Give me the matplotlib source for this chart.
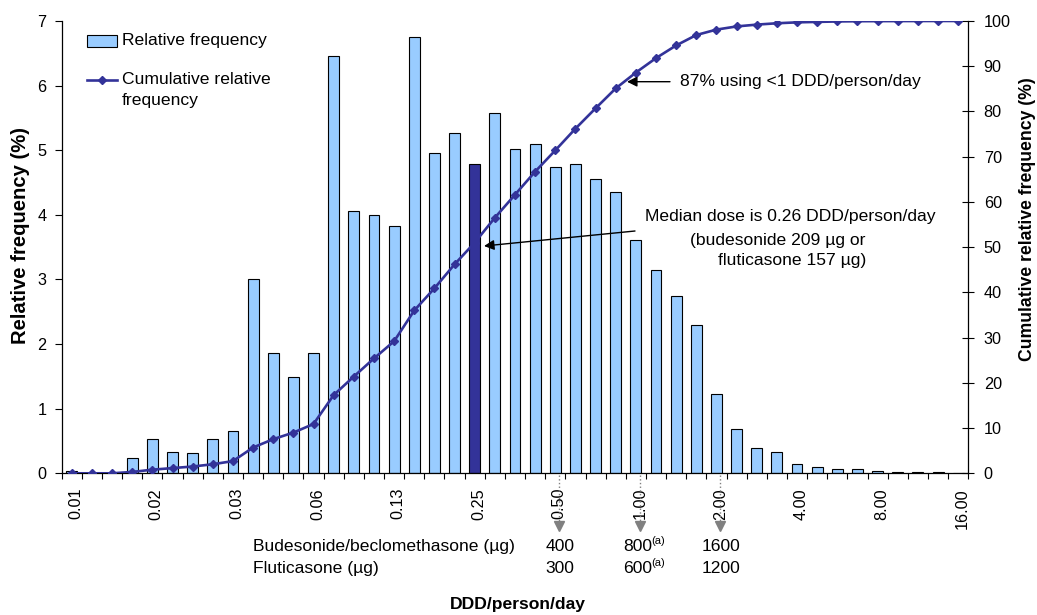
import matplotlib
matplotlib.use('Agg')
import matplotlib.pyplot as plt
from matplotlib import transforms
from matplotlib.patches import Rectangle
from matplotlib.lines import Line2D
import numpy as np

# ---------------- data ----------------
tick_labels = ['0.01', '0.02', '0.03', '0.06', '0.13', '0.25', '0.50',
               '1.00', '2.00', '4.00', '8.00', '16.00']
rel_freq = [0.04, 0.0, 0.0, 0.23, 0.53, 0.33, 0.32, 0.53, 0.65, 3.01,
            1.86, 1.49, 1.86, 6.46, 4.06, 4.00, 3.82, 6.75, 4.96, 5.26,
            4.79, 5.58, 5.02, 5.09, 4.74, 4.78, 4.56, 4.36, 3.61, 3.15,
            2.75, 2.29, 1.23, 0.68, 0.39, 0.33, 0.15, 0.09, 0.06, 0.06,
            0.03, 0.02, 0.02, 0.02, 0.0]
cum_freq = [0.0, 0.0, 0.0, 0.3, 0.8, 1.15, 1.5, 2.0, 2.7, 5.7,
            7.55, 9.0, 10.9, 17.3, 21.4, 25.4, 29.2, 36.0, 40.9, 46.2,
            51.0, 56.5, 61.6, 66.7, 71.4, 76.2, 80.7, 85.1, 88.6, 91.8,
            94.6, 96.9, 98.1, 98.8, 99.2, 99.5, 99.7, 99.8, 99.9, 99.95,
            99.97, 99.98, 99.99, 100.0, 100.0]
median_index = 20
marked_ticks = [24, 28, 32]           # 0.50, 1.00, 2.00
bud_values = ['400', '800', '1600']
flu_values = ['300', '600', '1200']
superscripts = ['', '(a)', '']

# ---------------- style ----------------
plt.rcParams['font.family'] = ['Liberation Sans', 'DejaVu Sans']
W, H, DPI = 1037, 615, 100
LIGHT = '#99CCFF'
DARK = '#333399'
TXT = 12.6
TICK = 11.7

fig = plt.figure(figsize=(W / DPI, H / DPI), dpi=DPI)
pix = transforms.Affine2D().scale(1, -1).translate(0, H)   # top-left pixel coords


def F(px, py):
    return (px / W, 1 - py / H)


L, R, T, B = 61.7, 968.3, 21.0, 473.3
ax = fig.add_axes([L / W, 1 - B / H, (R - L) / W, (B - T) / H])
n = len(rel_freq)
x = np.arange(n)
colors = [DARK if i == median_index else LIGHT for i in x]
ax.bar(x, rel_freq, width=0.54, color=colors, edgecolor='black',
       linewidth=0.8, zorder=2)
ax.set_xlim(-0.5, n - 0.5)
ax.set_ylim(0, 7)
ax.set_yticks(range(8))

ax2 = ax.twinx()
ax2.plot(x, cum_freq, color=DARK, lw=1.9, marker='D', ms=4.5, zorder=3)
ax2.set_ylim(0, 100)
ax2.set_yticks(range(0, 101, 10))

for a in (ax, ax2):
    a.spines['top'].set_visible(False)
    for s in a.spines.values():
        s.set_linewidth(0.9)
ax.spines['right'].set_visible(False)
ax2.spines['left'].set_visible(False)
ax2.spines['bottom'].set_visible(False)

# x ticks
ax.set_xticks(range(0, n, 4))
ax.set_xticklabels(tick_labels, rotation=90)
ax.set_xticks(np.arange(-0.5, n, 1), minor=True)
ax.tick_params(axis='x', which='major', length=0, pad=10.5, labelsize=TICK)
ax.tick_params(axis='x', which='minor', length=4.5, width=0.8, direction='out')
off = transforms.ScaledTranslation(4 / DPI, 0, fig.dpi_scale_trans)
for lab in ax.get_xticklabels():
    lab.set_transform(lab.get_transform() + off)

ax.tick_params(axis='y', direction='out', length=5, width=0.8, pad=5.8,
               labelsize=TICK)
ax2.tick_params(axis='y', direction='inout', length=8.6, width=0.8, pad=6.8,
                labelsize=TICK)

# axis labels
fig.text(*F(20.5, 236), 'Relative frequency (%)', rotation=90, fontsize=14.6,
         fontweight='bold', ha='center', va='center')
fig.text(*F(1027.5, 219), 'Cumulative relative frequency (%)', rotation=90,
         fontsize=12.7, fontweight='bold', ha='center', va='center')
fig.text(*F(518.3, 604), 'DDD/person/day', fontsize=TXT, fontweight='bold',
         ha='center', va='center')

# legend (manual)
fig.patches.append(Rectangle(F(87.3, 46.7), 29.4 / W, 11.7 / H,
                             transform=fig.transFigure, facecolor=LIGHT,
                             edgecolor='black', linewidth=0.8))
fig.text(*F(121.7, 41), 'Relative frequency', fontsize=TXT, va='center')
fig.lines.append(Line2D([87 / W, 117 / W], [1 - 80 / H, 1 - 80 / H],
                        transform=fig.transFigure, color=DARK, lw=1.9))
fig.lines.append(Line2D([102 / W], [1 - 80 / H], transform=fig.transFigure,
                        color=DARK, marker='D', ms=4.5))
fig.text(*F(121.7, 80), 'Cumulative relative', fontsize=TXT, va='center')
fig.text(*F(121.7, 100), 'frequency', fontsize=TXT, va='center')

# annotations
arrow = dict(arrowstyle='-|>,head_length=0.6,head_width=0.3', color='black',
             lw=1.0, shrinkA=0, shrinkB=0, mutation_scale=10)
fig.add_artist(matplotlib.text.Annotation('', xy=F(627, 81.7), xytext=F(670, 81.7),
                                          xycoords='figure fraction',
                                          textcoords='figure fraction',
                                          arrowprops=arrow))
fig.text(*F(680, 81.7), '87% using <1 DDD/person/day', fontsize=TXT, va='center')
fig.add_artist(matplotlib.text.Annotation('', xy=F(484, 246), xytext=F(635, 231),
                                          xycoords='figure fraction',
                                          textcoords='figure fraction',
                                          arrowprops=arrow))
fig.text(*F(645, 217), 'Median dose is 0.26 DDD/person/day', fontsize=TXT,
         va='center')
fig.text(*F(690, 240), '(budesonide 209 \u00b5g or', fontsize=TXT, va='center')
fig.text(*F(718.3, 260), 'fluticasone 157 \u00b5g)', fontsize=TXT, va='center')

# dotted markers under selected ticks
btr = transforms.blended_transform_factory(ax.transData + off, pix)
for k in marked_ticks:
    fig.lines.append(Line2D([k, k], [475, 521], transform=btr, color='#808080',
                            lw=1.0, ls=':'))
    fig.lines.append(Line2D([k], [525.5], transform=btr, color='#808080',
                            marker='v', ms=6.5, mec='#808080'))

# dose table
fig.text(*F(253.3, 546.7), 'Budesonide/beclomethasone (\u00b5g)', fontsize=TXT,
         va='center')
fig.text(*F(253.3, 568.3), 'Fluticasone (\u00b5g)', fontsize=TXT, va='center')
for k, bv, fv, sup in zip(marked_ticks, bud_values, flu_values, superscripts):
    if sup:
        ax.text(k - 0.1, 546.7, bv, transform=btr, fontsize=TXT,
                ha='center', va='center', clip_on=False)
        ax.text(k - 0.1, 568.3, fv, transform=btr, fontsize=TXT,
                ha='center', va='center', clip_on=False)
        ax.text(k + 0.57, 541.5, sup, transform=btr, fontsize=8,
                ha='left', va='center', clip_on=False)
        ax.text(k + 0.57, 563.5, sup, transform=btr, fontsize=8,
                ha='left', va='center', clip_on=False)
    else:
        ax.text(k + 0.05, 546.7, bv, transform=btr, fontsize=TXT,
                ha='center', va='center', clip_on=False)
        ax.text(k + 0.05, 568.3, fv, transform=btr, fontsize=TXT,
                ha='center', va='center', clip_on=False)

fig.savefig('out.png', dpi=DPI)
